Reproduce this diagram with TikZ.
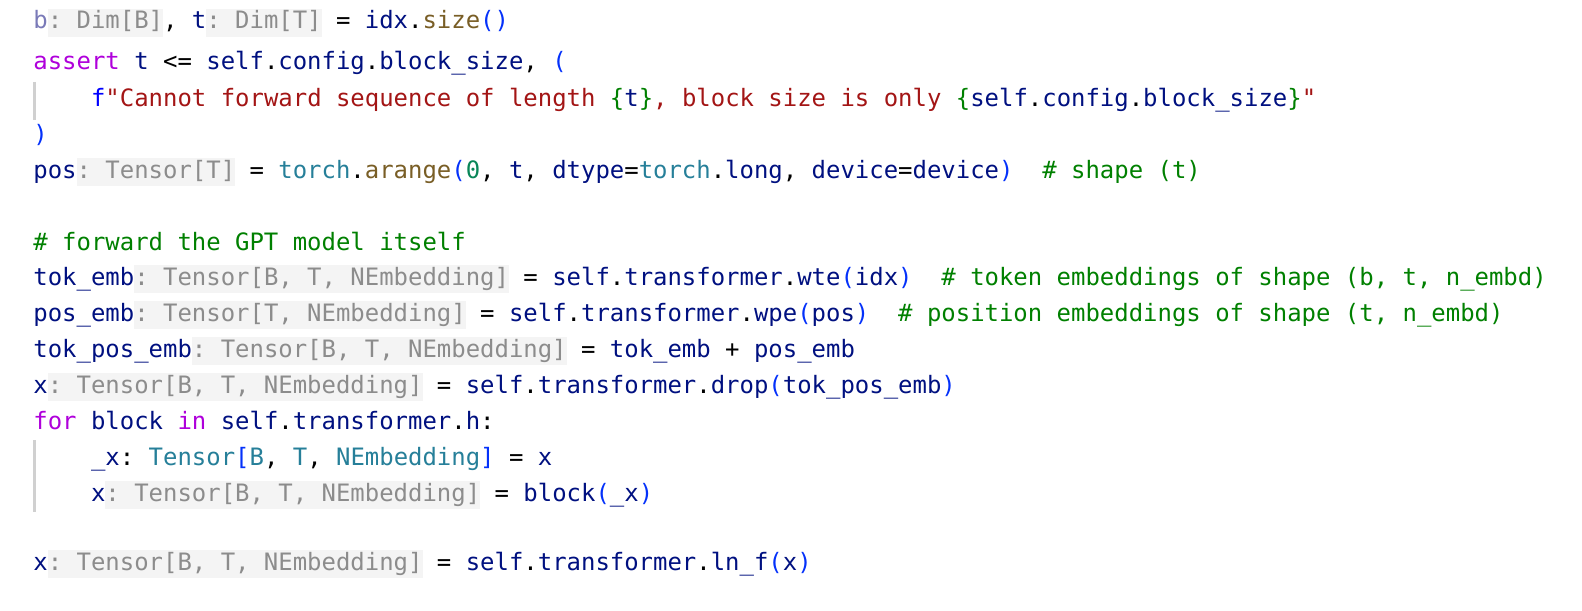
\documentclass[tikz,border=0pt]{standalone}
\usepackage{fontspec}
\setmonofont{DejaVu Sans Mono}
\usepackage{xcolor}
\usepackage{tikz}
\usetikzlibrary{positioning}

\definecolor{idcol}{HTML}{001080}
\definecolor{kwcol}{HTML}{AF00DB}
\definecolor{fncol}{HTML}{795E26}
\definecolor{strcol}{HTML}{A31515}
\definecolor{cmcol}{HTML}{008000}
\definecolor{tycol}{HTML}{267F99}
\definecolor{numcol}{HTML}{098658}
\definecolor{brcol}{HTML}{0431FA}
\definecolor{hintfg}{HTML}{8C8C8C}
\definecolor{hintbg}{HTML}{F4F4F4}
\definecolor{bcol}{HTML}{7A7AB8}
\definecolor{guidecol}{HTML}{D0D0D0}

\newcommand{\kw}[1]{\textcolor{kwcol}{#1}}
\newcommand{\fn}[1]{\textcolor{fncol}{#1}}
\newcommand{\strlit}[1]{\textcolor{strcol}{#1}}
\newcommand{\cm}[1]{\textcolor{cmcol}{#1}}
\newcommand{\ty}[1]{\textcolor{tycol}{#1}}
\newcommand{\num}[1]{\textcolor{numcol}{#1}}
\newcommand{\br}[1]{\textcolor{brcol}{#1}}
\newcommand{\op}[1]{\textcolor{black}{#1}}
\newcommand{\fb}[1]{\textcolor{cmcol}{#1}}
\newcommand{\hint}[1]{{\setlength{\fboxsep}{0pt}\colorbox{hintbg}{\rule[-4pt]{0pt}{14pt}\textcolor{hintfg}{#1}}}}
\newcommand{\ind}{\hspace*{28.84pt}}

\begin{document}
\begin{tikzpicture}[x=0.5pt, y=0.5pt,
    codeline/.style={anchor=base west, inner sep=0pt, text=idcol,
      font=\ttfamily\fontsize{11.97}{14}\selectfont}]
    \useasboundingbox (0,0) rectangle (1582,-610);

    % Header lines
    \node[codeline] (l1) at (33,-29) {\textcolor{bcol}{b}\hint{: Dim[B]}\op{,} t\hint{: Dim[T]} \op{=} idx\op{.}\fn{size}\br{()}};
    \node[codeline] (l2) at (33,-69) {\kw{assert} t \op{<=} self\op{.}config\op{.}block\_size\op{,} \br{(}};
    \node[codeline] (l3) at (33,-106) {\ind\textcolor{blue}{f}\strlit{"Cannot forward sequence of length }\fb{\{}t\fb{\}}\strlit{, block size is only }\fb{\{}self\op{.}config\op{.}block\_size\fb{\}}\strlit{"}};
    \node[codeline] (l4) at (33,-142) {\br{)}};
    \node[codeline] (l5) at (33,-178) {pos\hint{: Tensor[T]} \op{=} \ty{torch}\op{.}\fn{arange}\br{(}\num{0}\op{,} t\op{,} dtype\op{=}\ty{torch}\op{.}long\op{,} device\op{=}device\br{)}~ \cm{\# shape (t)}};

    % Forward pass
    \node[codeline] (l7) at (33,-250) {\cm{\# forward the GPT model itself}};
    \node[codeline] (l8) at (33,-285) {tok\_emb\hint{: Tensor[B, T, NEmbedding]} \op{=} self\op{.}transformer\op{.}wte\br{(}idx\br{)}~ \cm{\# token embeddings of shape (b, t, n\_embd)}};
    \node[codeline] (l9) at (33,-321) {pos\_emb\hint{: Tensor[T, NEmbedding]} \op{=} self\op{.}transformer\op{.}wpe\br{(}pos\br{)}~ \cm{\# position embeddings of shape (t, n\_embd)}};
    \node[codeline] (l10) at (33,-357) {tok\_pos\_emb\hint{: Tensor[B, T, NEmbedding]} \op{=} tok\_emb \op{+} pos\_emb};
    \node[codeline] (l11) at (33,-393) {x\hint{: Tensor[B, T, NEmbedding]} \op{=} self\op{.}transformer\op{.}drop\br{(}tok\_pos\_emb\br{)}};
    \node[codeline] (l12) at (33,-429) {\kw{for} block \kw{in} self\op{.}transformer\op{.}h\op{:}};
    \node[codeline] (l13) at (33,-465) {\ind\_x\op{:} \ty{Tensor}\br{[}\ty{B}\op{,} \ty{T}\op{,} \ty{NEmbedding}\br{]} \op{=} x};
    \node[codeline] (l14) at (33,-501) {\ind x\hint{: Tensor[B, T, NEmbedding]} \op{=} block\br{(}\_x\br{)}};
    \node[codeline] (l16) at (33,-570) {x\hint{: Tensor[B, T, NEmbedding]} \op{=} self\op{.}transformer\op{.}ln\_f\br{(}x\br{)}};

    % Indent guides
    \draw[guidecol, line width=1.5] (34,-82) -- (34,-120);
    \draw[guidecol, line width=1.5] (34,-440) -- (34,-512);
\end{tikzpicture}
\end{document}
